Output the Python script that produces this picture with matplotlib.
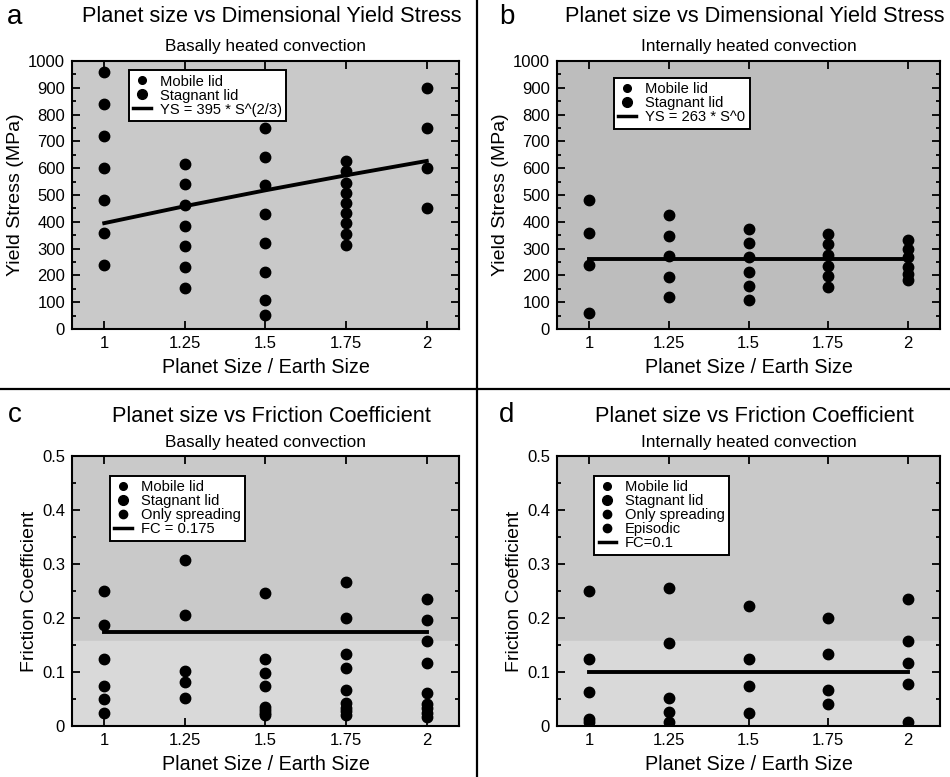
import matplotlib.pyplot as plt
from matplotlib.lines import Line2D
from matplotlib.ticker import MultipleLocator

plt.rcParams['font.family'] = ['Liberation Sans', 'DejaVu Sans']

# planet size / earth size (one column of runs per size)
sizes = [1, 1.25, 1.5, 1.75, 2]

# panel a: basally heated, yield stress (MPa) per planet size
ys_basal = [
    [960, 840, 720, 600, 480, 360, 240],
    [615, 540, 462, 385, 308, 231, 154],
    [750, 643, 536, 429, 321, 214, 107, 54],
    [627, 590, 546, 509, 469, 432, 394, 354, 313],
    [900, 750, 600, 450],
]
# panel b: internally heated, yield stress (MPa)
ys_internal = [
    [480, 360, 240, 60],
    [425, 348, 271, 194, 118],
    [375, 322, 268, 214, 161, 107],
    [355, 316, 276, 236, 197, 157],
    [333, 300, 267, 233, 207, 183],
]
# panel c: basally heated, friction coefficient
fc_basal = [
    [0.25, 0.1875, 0.125, 0.075, 0.05, 0.025],
    [0.3075, 0.205, 0.1025, 0.082, 0.051],
    [0.247, 0.125, 0.099, 0.075, 0.036, 0.03, 0.025, 0.02],
    [0.266, 0.2, 0.133, 0.108, 0.067, 0.042, 0.033, 0.027, 0.02],
    [0.235, 0.196, 0.157, 0.117, 0.062, 0.04, 0.033, 0.025, 0.017],
]
# panel d: internally heated, friction coefficient
fc_internal = [
    [0.25, 0.125, 0.0625, 0.0125, 0.008],
    [0.256, 0.154, 0.052, 0.026, 0.007],
    [0.222, 0.124, 0.074, 0.025],
    [0.2, 0.134, 0.067, 0.04],
    [0.235, 0.157, 0.117, 0.078, 0.008],
]

# fitted scalings shown as black lines
ys_basal_coef, ys_basal_exp = 395, 2 / 3
ys_internal_coef, ys_internal_exp = 263, 0
fc_basal_fit = 0.175
fc_internal_fit = 0.1


def split(columns, limit, low_limit=None):
    # above the fit -> stagnant lid, below -> mobile lid, very low -> only spreading
    groups = {'hi': ([], []), 'mid': ([], []), 'lo': ([], [])}
    for s, col in zip(sizes, columns):
        for v in col:
            if v >= limit:
                key = 'hi'
            elif low_limit is not None and v <= low_limit:
                key = 'lo'
            else:
                key = 'mid'
            groups[key][0].append(s)
            groups[key][1].append(v)
    return groups


def style_axes(ax, ymax, ymajor, yminor, ylabel, ylabels):
    ax.set_facecolor('#c9c9c9')
    ax.set_xlim(0.9, 2.1)
    ax.set_ylim(0, ymax)
    ax.set_xticks(sizes)
    ax.set_xticklabels(['1', '1.25', '1.5', '1.75', '2'])
    ax.yaxis.set_minor_locator(MultipleLocator(yminor))
    ax.set_yticks([i * ymajor for i in range(len(ylabels))])
    ax.set_yticklabels(ylabels)
    ax.tick_params(which='both', direction='in', top=True, right=True,
                   width=1.3, labelsize=12, colors='black')
    ax.tick_params(which='major', length=6, pad=5)
    ax.tick_params(which='minor', length=3)
    for sp in ax.spines.values():
        sp.set_linewidth(1.5)
    ax.set_xlabel('Planet Size / Earth Size', fontsize=14.2, labelpad=5)
    ax.set_ylabel(ylabel, fontsize=14, labelpad=3)


def dots(ax, groups):
    for key in ['mid', 'hi', 'lo']:
        xs, vs = groups[key]
        if xs:
            ax.plot(xs, vs, 'o', color='black', markersize=7.5, zorder=3)


def legend(ax, labels, line_label, anchor, sizes_leg):
    handles = [Line2D([], [], marker='o', color='black', linestyle='none',
                      markersize=ms) for ms in sizes_leg]
    handles.append(Line2D([], [], color='black', linewidth=2.5))
    leg = ax.legend(handles, labels + [line_label], loc='upper left',
                    bbox_to_anchor=anchor, fontsize=10.6, frameon=True,
                    fancybox=False, edgecolor='black', framealpha=1,
                    handlelength=1.2, handletextpad=0.6, labelspacing=0.0,
                    borderpad=0.3, borderaxespad=0)
    leg.get_frame().set_linewidth(1.4)
    leg.get_frame().set_facecolor('white')


fig = plt.figure(figsize=(9.5, 7.77), dpi=100)
ax_a = fig.add_axes([72 / 950, 1 - 329 / 777, 387 / 950, 268 / 777])
ax_b = fig.add_axes([557 / 950, 1 - 329 / 777, 383 / 950, 268 / 777])
ax_c = fig.add_axes([72 / 950, 1 - 726 / 777, 387 / 950, 270 / 777])
ax_d = fig.add_axes([557 / 950, 1 - 726 / 777, 383 / 950, 270 / 777])

ys_ticks = [str(v) for v in range(0, 1001, 100)]
fc_ticks = ['0', '0.1', '0.2', '0.3', '0.4', '0.5']

# a
style_axes(ax_a, 1000, 100, 50, 'Yield Stress (MPa)', ys_ticks)
dots(ax_a, split(ys_basal, 500))
ax_a.plot(sizes, [ys_basal_coef * s ** ys_basal_exp for s in sizes],
          color='black', linewidth=2.8, zorder=2)
legend(ax_a, ['Mobile lid', 'Stagnant lid'], 'YS = 395 * S^(2/3)',
       (0.147, 0.966), [5.5, 7])

# b
style_axes(ax_b, 1000, 100, 50, 'Yield Stress (MPa)', ys_ticks)
ax_b.set_facecolor('#bdbdbd')
dots(ax_b, split(ys_internal, ys_internal_coef))
ax_b.plot(sizes, [ys_internal_coef * s ** ys_internal_exp for s in sizes],
          color='black', linewidth=2.8, zorder=2)
legend(ax_b, ['Mobile lid', 'Stagnant lid'], 'YS = 263 * S^0',
       (0.149, 0.937), [5.5, 7])

# c
style_axes(ax_c, 0.5, 0.1, 0.05, 'Friction Coefficient', fc_ticks)
ax_c.axhspan(0, 0.158, color='#d9d9d9', zorder=0)
dots(ax_c, split(fc_basal, fc_basal_fit, 0.04))
ax_c.plot(sizes, [fc_basal_fit for s in sizes], color='black',
          linewidth=2.8, zorder=2)
legend(ax_c, ['Mobile lid', 'Stagnant lid', 'Only spreading'], 'FC = 0.175',
       (0.098, 0.926), [5.5, 7, 6])

# d
style_axes(ax_d, 0.5, 0.1, 0.05, 'Friction Coefficient', fc_ticks)
ax_d.axhspan(0, 0.158, color='#d9d9d9', zorder=0)
dots(ax_d, split(fc_internal, fc_internal_fit, 0.03))
ax_d.plot(sizes, [fc_internal_fit for s in sizes], color='black',
          linewidth=2.8, zorder=2)
legend(ax_d, ['Mobile lid', 'Stagnant lid', 'Only spreading', 'Episodic'],
       'FC=0.1', (0.097, 0.926), [5.5, 7, 6, 6])

# titles
titles = [
    (ax_a, 'a', 'Planet size vs Dimensional Yield Stress',
     'Basally heated convection', 15, 17),
    (ax_b, 'b', 'Planet size vs Dimensional Yield Stress',
     'Internally heated convection', 507, 17),
    (ax_c, 'c', 'Planet size vs Friction Coefficient',
     'Basally heated convection', 15, 415),
    (ax_d, 'd', 'Planet size vs Friction Coefficient',
     'Internally heated convection', 507, 415),
]
for ax, letter, title, sub, lx, ly in titles:
    pos = ax.get_position()
    cx = pos.x0 + pos.width / 2
    top = pos.y1
    upper = ax in (ax_a, ax_b)
    fig.text(lx / 950, 1 - ly / 777, letter, fontsize=20, ha='center',
             va='center')
    fig.text(cx + 6 / 950, top + (0.057 if upper else 0.051),
             title, fontsize=15.7, ha='center', va='center')
    fig.text(cx, top + (0.019 if upper else 0.017),
             sub, fontsize=12.4, ha='center', va='center')

# panel dividers
fig.add_artist(Line2D([0, 1], [1 - 389 / 777] * 2, color='black',
                      linewidth=1.6, transform=fig.transFigure))
fig.add_artist(Line2D([477 / 950] * 2, [0, 1], color='black',
                      linewidth=1.6, transform=fig.transFigure))

fig.savefig('out.png', dpi=100)
